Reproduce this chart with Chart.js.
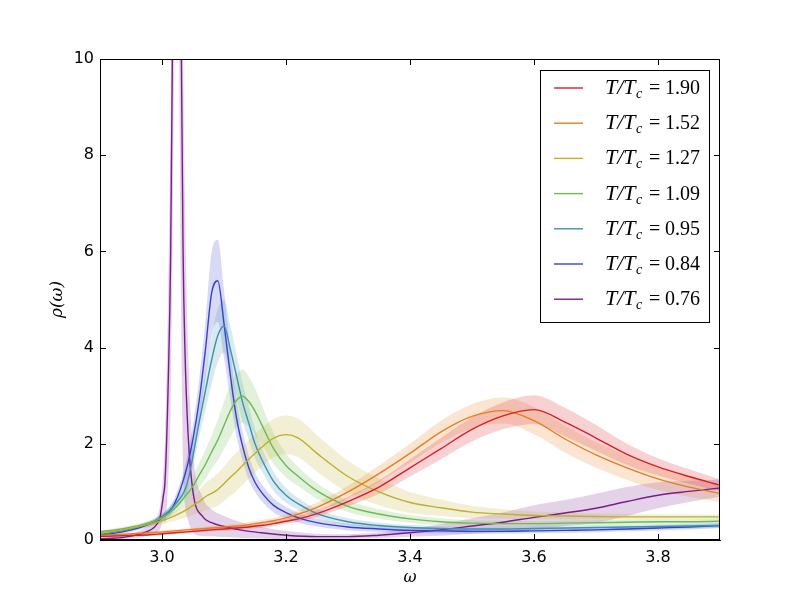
<!DOCTYPE html>
<html>
<head>
<meta charset="utf-8">
<script src="https://cdn.jsdelivr.net/npm/chart.js@4"></script>
<style>
  body { margin: 0; background: #fff; }
  #wrap { width: 800px; height: 600px; position: relative; }
</style>
</head>
<body>
<div id="wrap"><canvas id="specChart"></canvas></div>
<script>
// shared frequency grid for the smooth curves
const omega = [2.90, 2.94, 2.98, 3.00, 3.02, 3.04, 3.05, 3.06, 3.07, 3.08,
               3.09, 3.10, 3.11, 3.12, 3.13, 3.14, 3.15, 3.16, 3.18, 3.20,
               3.22, 3.25, 3.30, 3.35, 3.40, 3.45, 3.50, 3.55, 3.60, 3.65,
               3.70, 3.75, 3.80, 3.85, 3.90];

const rho190 = [0.07,0.09,0.11,0.13,0.15,0.17,0.18,0.19,0.20,0.21, 0.22,0.23,0.24,0.25,0.26,0.27,0.29,0.30,0.34,0.39, 0.44,0.55,0.80,1.10,1.50,1.90,2.30,2.58,2.71,2.45, 2.12,1.78,1.52,1.32,1.14];
const err190 = [0.02,0.02,0.02,0.03,0.03,0.03,0.03,0.03,0.03,0.03, 0.04,0.04,0.04,0.04,0.04,0.04,0.04,0.05,0.05,0.05, 0.06,0.07,0.10,0.14,0.18,0.22,0.25,0.28,0.30,0.30, 0.27,0.22,0.18,0.15,0.12];

const rho152 = [0.10,0.12,0.15,0.17,0.19,0.21,0.22,0.23,0.24,0.25, 0.26,0.27,0.28,0.29,0.30,0.32,0.34,0.36,0.40,0.46, 0.54,0.68,1.00,1.38,1.80,2.25,2.57,2.69,2.48,2.10, 1.77,1.50,1.27,1.10,0.97];
const err152 = [0.02,0.02,0.03,0.03,0.03,0.03,0.03,0.03,0.04,0.04, 0.04,0.04,0.04,0.04,0.05,0.05,0.05,0.05,0.06,0.07, 0.08,0.10,0.13,0.17,0.20,0.23,0.25,0.27,0.28,0.28, 0.27,0.25,0.23,0.20,0.18];

const rho127 = [0.15,0.22,0.33,0.40,0.50,0.63,0.72,0.80,0.90,0.97, 1.05,1.17,1.30,1.42,1.55,1.68,1.80,1.92,2.12,2.19, 2.12,1.80,1.32,1.00,0.78,0.67,0.58,0.54,0.51,0.50, 0.49,0.48,0.48,0.48,0.48];
const err127 = [0.03,0.04,0.05,0.07,0.10,0.15,0.20,0.24,0.28,0.31, 0.34,0.36,0.38,0.40,0.40,0.40,0.40,0.40,0.40,0.40, 0.40,0.38,0.33,0.28,0.22,0.17,0.13,0.10,0.08,0.07, 0.06,0.06,0.05,0.05,0.05];

const rho109 = [0.17,0.24,0.36,0.46,0.65,0.95,1.12,1.35,1.57,1.83, 2.08,2.38,2.68,2.90,2.99,2.88,2.68,2.42,1.90,1.55, 1.32,1.02,0.70,0.54,0.44,0.38,0.35,0.34,0.34,0.35, 0.36,0.37,0.38,0.38,0.39];
const err109 = [0.03,0.04,0.05,0.07,0.10,0.16,0.20,0.25,0.30,0.35, 0.42,0.50,0.55,0.55,0.55,0.52,0.48,0.42,0.32,0.25, 0.20,0.16,0.12,0.10,0.08,0.07,0.06,0.06,0.05,0.05, 0.05,0.05,0.05,0.05,0.05];

const rho095 = [0.12,0.20,0.35,0.48,0.72,1.15,1.75,2.45,3.10,3.74, 4.25,4.45,3.98,3.42,2.86,2.43,2.00,1.70,1.22,0.93, 0.75,0.55,0.38,0.30,0.26,0.24,0.23,0.23,0.24,0.25, 0.26,0.27,0.28,0.29,0.30];
const err095 = [0.02,0.03,0.05,0.06,0.10,0.15,0.22,0.30,0.40,0.50, 0.55,0.55,0.50,0.45,0.40,0.35,0.30,0.25,0.20,0.15, 0.12,0.10,0.07,0.06,0.05,0.05,0.05,0.05,0.05,0.05, 0.05,0.05,0.05,0.05,0.05];

const rho084 = [0.10,0.18,0.33,0.47,0.75,1.50,2.10,2.90,3.95,5.13, 5.39,4.50,3.45,2.55,1.95,1.50,1.20,1.00,0.72,0.57, 0.46,0.36,0.27,0.23,0.20,0.19,0.18,0.18,0.19,0.20, 0.21,0.23,0.25,0.27,0.30];
const err084 = [0.03,0.04,0.05,0.07,0.12,0.20,0.30,0.45,0.60,0.85, 0.85,0.70,0.50,0.38,0.30,0.25,0.20,0.18,0.15,0.12, 0.10,0.08,0.07,0.06,0.06,0.05,0.05,0.05,0.05,0.05, 0.05,0.05,0.05,0.05,0.05];

// the T/Tc = 0.76 curve has its own finer grid around the narrow peak
const omega076 = [2.90, 2.94, 2.97, 2.99, 2.997, 3.002, 3.005, 3.010, 3.014, 3.017,
                  3.024, 3.031, 3.034, 3.037, 3.042, 3.050, 3.066, 3.080, 3.100, 3.130,
                  3.160, 3.200, 3.250, 3.300, 3.350, 3.400, 3.450, 3.500, 3.550, 3.600,
                  3.650, 3.700, 3.750, 3.800, 3.850, 3.900];
const rho076 = [0.02,0.06,0.15,0.30,0.48,0.90,1.25,3.26,6.00,10.5, 20.0,10.5,6.00,3.95,2.22,1.00,0.48,0.36,0.28,0.20, 0.15,0.10,0.07,0.07,0.10,0.15,0.21,0.29,0.37,0.47, 0.56,0.66,0.80,0.93,1.01,1.08];
const err076 = [0.02,0.04,0.08,0.15,0.25,0.50,0.90,2.00,3.20,4.50, 6.00,6.00,4.50,3.20,1.80,0.85,0.40,0.28,0.22,0.16, 0.12,0.09,0.06,0.05,0.06,0.08,0.12,0.16,0.20,0.25, 0.27,0.30,0.30,0.27,0.22,0.18];

const labels = ['1.90', '1.52', '1.27', '1.09', '0.95', '0.84', '0.76'];
const xTicks = [3.0, 3.2, 3.4, 3.6, 3.8];
const yTicks = [0, 2, 4, 6, 8, 10];

const series = [
    { x: omega, y: rho190, e: err190, color: [220, 30, 35] },
    { x: omega, y: rho152, e: err152, color: [232, 125, 30] },
    { x: omega, y: rho127, e: err127, color: [190, 175, 45] },
    { x: omega, y: rho109, e: err109, color: [110, 185, 80] },
    { x: omega, y: rho095, e: err095, color: [60, 145, 175] },
    { x: omega, y: rho084, e: err084, color: [55, 65, 205] },
    { x: omega076, y: rho076, e: err076, color: [120, 30, 140] }
];

function rgba(c, a) { return 'rgba(' + c[0] + ',' + c[1] + ',' + c[2] + ',' + a + ')'; }

const datasets = [];
series.forEach(function(s, k) {
    const lo = s.x.map((v, i) => ({ x: v, y: Math.max(0, s.y[i] - s.e[i]) }));
    const hi = s.x.map((v, i) => ({ x: v, y: s.y[i] + s.e[i] }));
    const mid = s.x.map((v, i) => ({ x: v, y: s.y[i] }));
    datasets.push({ data: lo, borderWidth: 0, pointRadius: 0, fill: false, cubicInterpolationMode: 'monotone', order: 2 });
    datasets.push({ data: hi, borderWidth: 0, pointRadius: 0, fill: '-1', backgroundColor: rgba(s.color, 0.2), cubicInterpolationMode: 'monotone', order: 2 });
    datasets.push({ label: 'T/Tc=' + labels[k], data: mid, borderColor: rgba(s.color, 1), borderWidth: 1.4, pointRadius: 0, fill: false, cubicInterpolationMode: 'monotone', order: 1 });
});

// inward ticks on all four sides, axis titles and the legend box
const decorations = {
    id: 'decorations',
    afterDraw(chart) {
        const ctx = chart.ctx;
        const a = chart.chartArea;
        const xs = chart.scales.x, ys = chart.scales.y;
        ctx.save();
        ctx.strokeStyle = '#000';
        ctx.lineWidth = 1;
        ctx.strokeRect(a.left + 0.5, a.top + 0.5, a.right - a.left - 1, a.bottom - a.top - 1);
        ctx.beginPath();
        xTicks.forEach(function(v) {
            const px = Math.round(xs.getPixelForValue(v)) + 0.5;
            ctx.moveTo(px, a.bottom); ctx.lineTo(px, a.bottom - 6);
            ctx.moveTo(px, a.top); ctx.lineTo(px, a.top + 6);
        });
        yTicks.forEach(function(v) {
            const py = Math.round(ys.getPixelForValue(v)) + 0.5;
            ctx.moveTo(a.left, py); ctx.lineTo(a.left + 6, py);
            ctx.moveTo(a.right, py); ctx.lineTo(a.right - 6, py);
        });
        ctx.stroke();

        // axis titles
        ctx.fillStyle = '#000';
        ctx.textAlign = 'center';
        ctx.textBaseline = 'middle';
        ctx.font = 'italic 16px "DejaVu Serif"';
        ctx.fillText('ω', (a.left + a.right) / 2, 578);
        ctx.save();
        ctx.translate(58, (a.top + a.bottom) / 2);
        ctx.rotate(-Math.PI / 2);
        ctx.font = 'italic 17px "DejaVu Serif"';
        ctx.fillText('ρ(ω)', 0, 0);
        ctx.restore();

        // legend
        const bx = 540, by = 70, bw = 169, bh = 252;
        ctx.fillStyle = '#fff';
        ctx.fillRect(bx, by, bw, bh);
        ctx.strokeStyle = '#000';
        ctx.strokeRect(bx + 0.5, by + 0.5, bw, bh);
        series.forEach(function(s, i) {
            const y = 88 + i * 35.2;
            ctx.strokeStyle = rgba(s.color, 1);
            ctx.lineWidth = 1.4;
            ctx.beginPath();
            ctx.moveTo(554, y); ctx.lineTo(583, y);
            ctx.stroke();
            ctx.fillStyle = '#000';
            ctx.textAlign = 'left';
            ctx.textBaseline = 'alphabetic';
            const base = y + 6;
            ctx.font = 'italic 22px "Liberation Serif"';
            ctx.fillText('T/T', 605, base);
            const w = ctx.measureText('T/T').width;
            ctx.font = 'italic 14px "Liberation Serif"';
            ctx.fillText('c', Math.max(605 + w, 636), base + 4);
            ctx.font = '20px "Liberation Serif"';
            ctx.fillText('=', 649, base);
            ctx.fillText(labels[i], 665, base);
        });
        ctx.restore();
    }
};

const ctx = document.getElementById('specChart').getContext('2d');
const chart = new Chart(ctx, {
    type: 'line',
    data: { datasets: datasets },
    options: {
        responsive: true,
        maintainAspectRatio: false,
        animation: false,
        devicePixelRatio: 1,
        layout: { padding: { left: 0, top: 59, right: 80, bottom: 0 } },
        plugins: {
            legend: { display: false },
            tooltip: { enabled: false }
        },
        scales: {
            x: {
                type: 'linear',
                min: 2.9,
                max: 3.9,
                afterBuildTicks: function(scale) {
                    scale.ticks = xTicks.map(v => ({ value: v }));
                },
                afterFit: function(scale) { scale.height = 60; },
                grid: { display: false, drawTicks: false },
                border: { display: true, color: '#000' },
                ticks: {
                    color: '#000',
                    padding: 8,
                    maxRotation: 0,
                    font: { family: 'DejaVu Sans', size: 16 },
                    callback: function(value) { return value.toFixed(1); }
                }
            },
            y: {
                type: 'linear',
                min: 0,
                max: 10,
                afterBuildTicks: function(scale) {
                    scale.ticks = yTicks.map(v => ({ value: v }));
                },
                afterFit: function(scale) { scale.width = 100; },
                grid: { display: false, drawTicks: false },
                border: { display: true, color: '#000' },
                ticks: {
                    color: '#000',
                    padding: 6,
                    font: { family: 'DejaVu Sans', size: 16 }
                }
            }
        }
    },
    plugins: [decorations]
});
</script>
</body>
</html>
